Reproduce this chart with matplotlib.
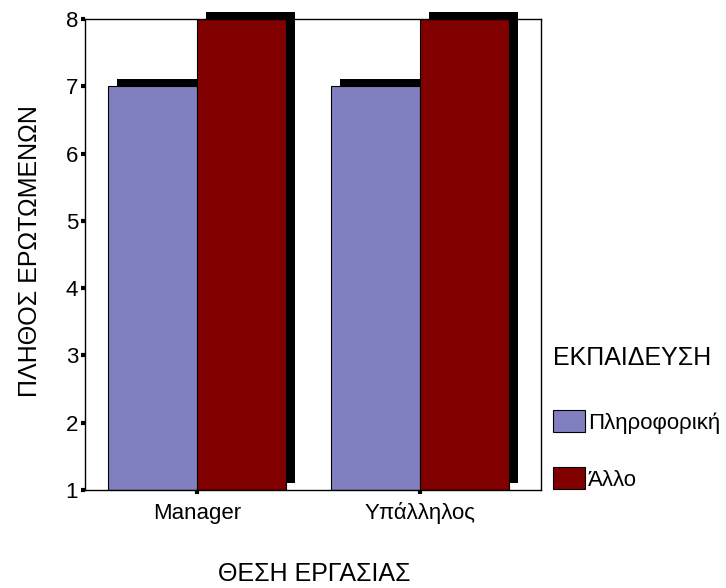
import matplotlib.pyplot as plt
import matplotlib.transforms as mtransforms
from matplotlib.patches import Patch
import numpy as np

# Πλήθος ερωτωμένων ανά θέση εργασίας και εκπαίδευση
positions = ['Manager', 'Υπάλληλος']
groups = ['Πληροφορική', 'Άλλο']
counts = {
    'Πληροφορική': [7, 7],
    'Άλλο': [8, 8],
}
colors = {'Πληροφορική': '#8080C0', 'Άλλο': '#800000'}
y_ticks = [1, 2, 3, 4, 5, 6, 7, 8]

plt.rcParams['font.family'] = ['Liberation Sans', 'DejaVu Sans']

fig = plt.figure(figsize=(7.26, 5.88), dpi=100)
ax = fig.add_axes([85 / 726, 98 / 588, 456 / 726, 471 / 588])

x = np.arange(len(positions))
width = 0.40
base = 1

# σκιά: ίδιες μπάρες μετατοπισμένες δεξιά και πάνω
shadow_tr = mtransforms.offset_copy(ax.transData, fig=fig, x=9, y=7, units='dots')

for i, g in enumerate(groups):
    xs = x + (i - 0.5) * width
    vals = np.array(counts[g]) - base
    ax.bar(xs, vals, width, bottom=base, color='black',
           transform=shadow_tr, zorder=1, clip_on=False)

for i, g in enumerate(groups):
    xs = x + (i - 0.5) * width
    vals = np.array(counts[g]) - base
    ax.bar(xs, vals, width, bottom=base, color=colors[g],
           edgecolor='black', linewidth=0.8, zorder=2, label=g)

ax.set_xlim(-0.502, 1.543)
ax.set_ylim(1, 8)
ax.set_yticks(y_ticks)
ax.set_xticks(x)
ax.set_xticklabels(positions)

for s in ax.spines.values():
    s.set_linewidth(1)
    s.set_color('black')

ax.tick_params(axis='y', direction='out', length=3, width=3, labelsize=16, pad=2)
ax.tick_params(axis='x', direction='out', length=3, width=3, labelsize=16, pad=6)

fig.text(30 / 726, 1 - 251 / 588, 'ΠΛΗΘΟΣ ΕΡΩΤΩΜΕΝΩΝ', fontsize=18,
         rotation=90, ha='center', va='center')
fig.text(314 / 726, 1 - 574 / 588, 'ΘΕΣΗ ΕΡΓΑΣΙΑΣ', fontsize=18,
         ha='center', va='center')

handles = [Patch(facecolor=colors[g], edgecolor='black', linewidth=0.8) for g in groups]
leg = fig.legend(handles, groups, loc='upper left', bbox_to_anchor=(553 / 726, 1 - 346 / 588),
                 frameon=False, title='ΕΚΠΑΙΔΕΥΣΗ', title_fontsize=18, fontsize=16,
                 handlelength=1.45, handleheight=1.15, handletextpad=0.13,
                 labelspacing=1.5, alignment='left', borderaxespad=0, borderpad=0)
leg._legend_box.sep = 29

fig.savefig('out.png', dpi=100)
